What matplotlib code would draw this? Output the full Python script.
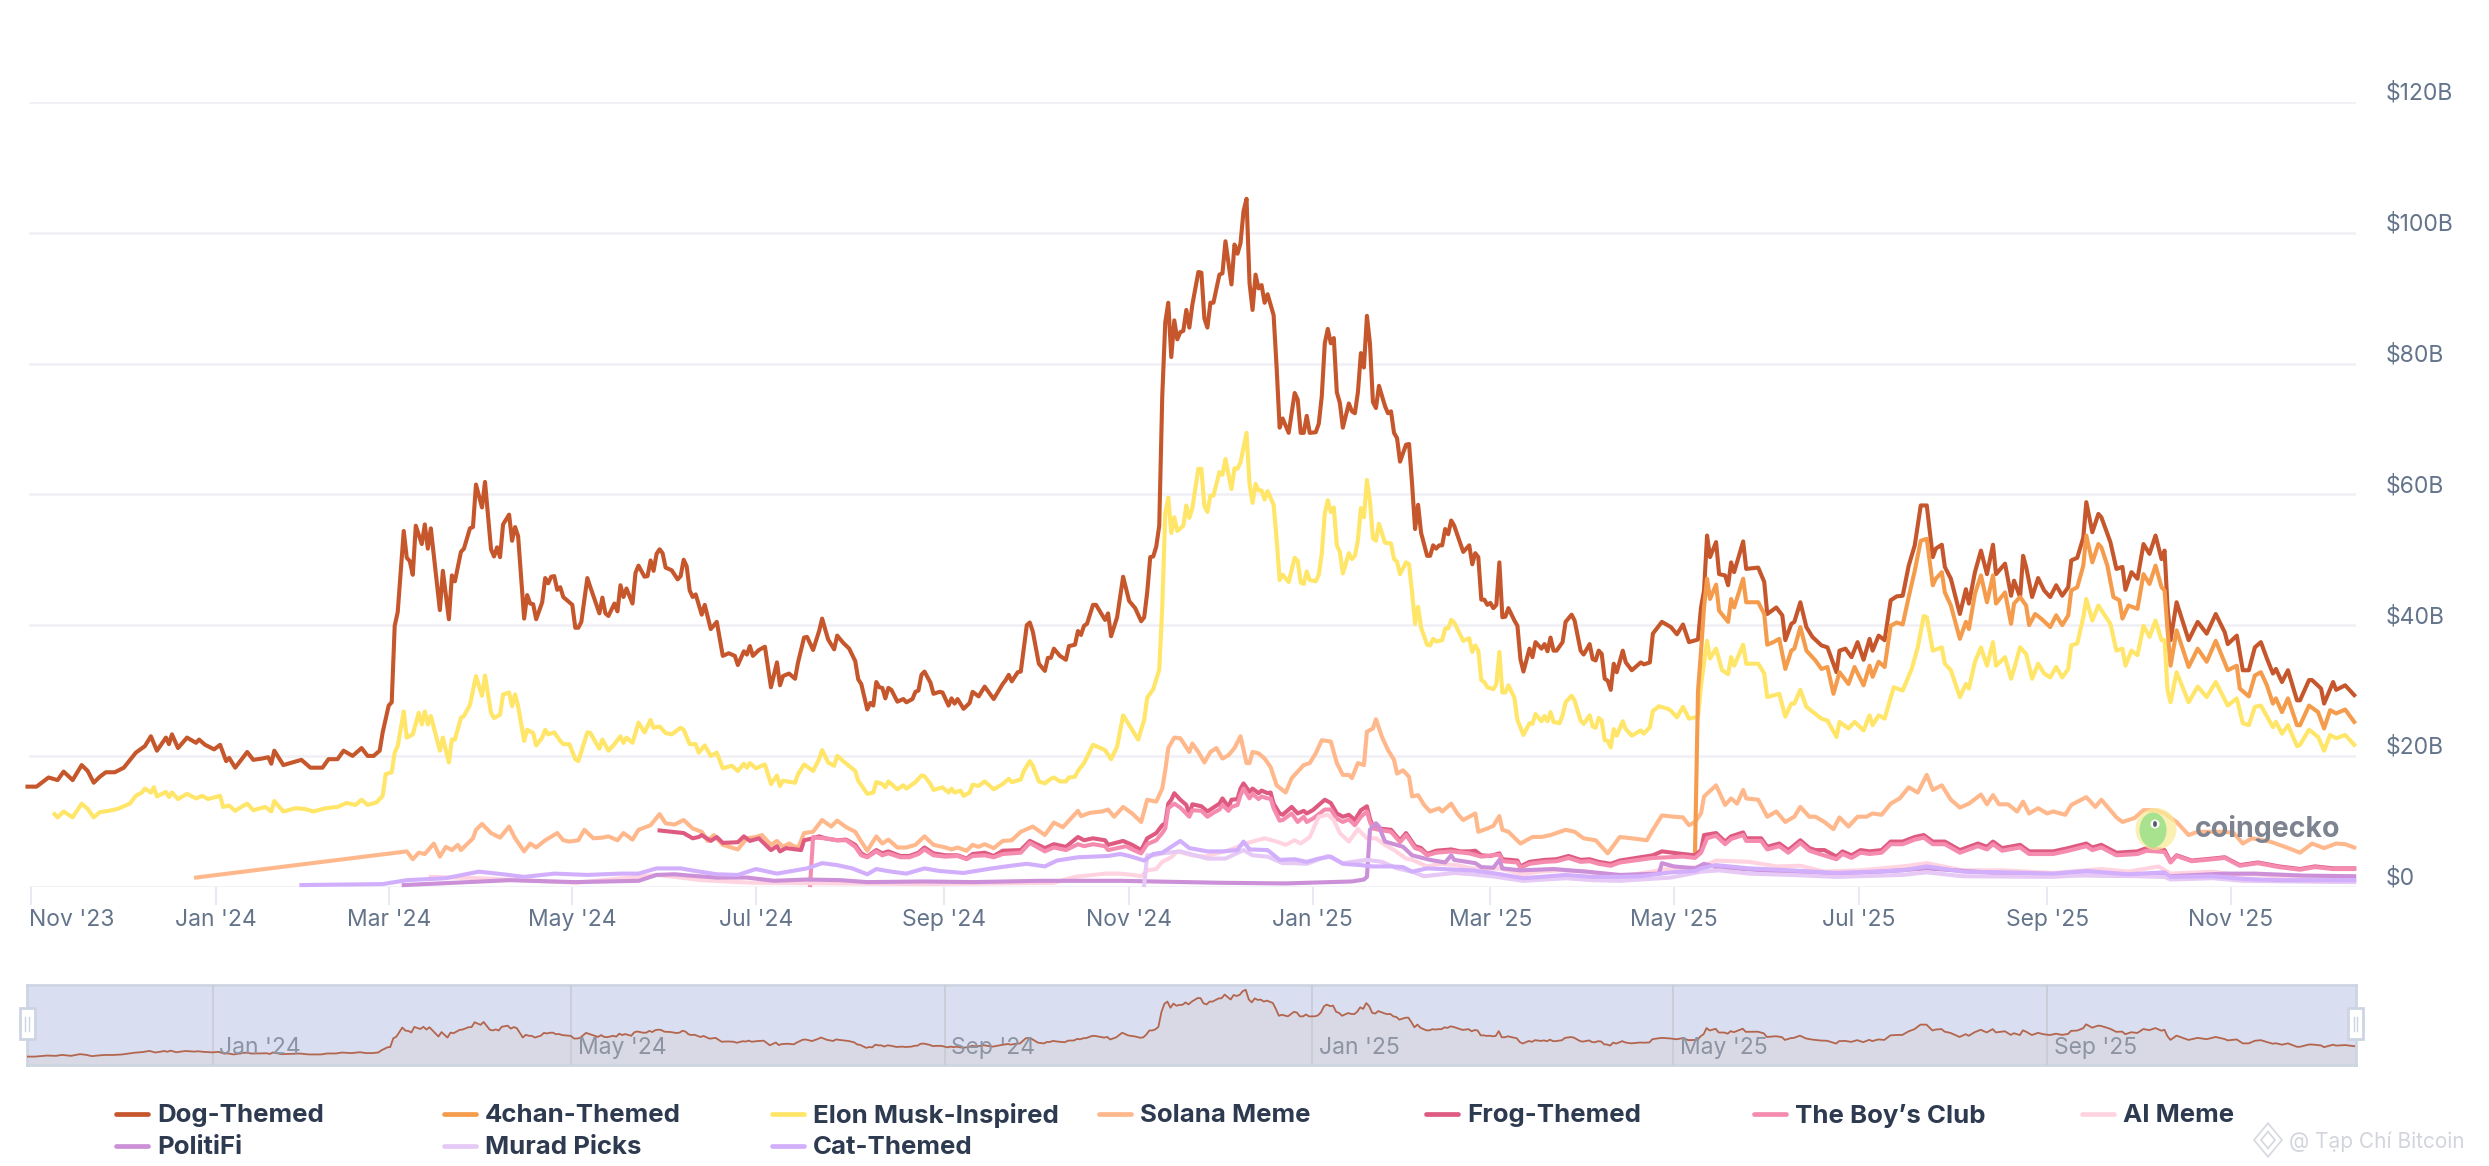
import pandas as pd
import matplotlib
matplotlib.use('Agg')
import matplotlib.pyplot as plt
from matplotlib.lines import Line2D
from matplotlib.patches import Ellipse, Rectangle, Polygon
from matplotlib.transforms import ScaledTranslation

plt.rcParams['font.family'] = ['Inter', 'DejaVu Sans']

# every series: (days since 2023-11-01, market cap in $B)
dog_themed = [(-1,15.3),(2,15.3),(6,16.7),(9,16.3),(11,17.6),(14,16.3),(17,18.6),(19,17.7),(21,15.9),(23,16.8),(25,17.5),(28,17.5),(31,18.2),(35,20.5),(38,21.5),(40,23.0),(42,20.8),(45,22.8),(46,21.8),(47,23.3),(49,21.2),(52,22.8),(55,22),(56,22.5),(58,21.7),(61,21),(63,21.7),(65,19.2),(66,19.7),(68,18.2),(70,19.4),(72,20.6),(74,19.4),(77,19.6),(79,19.8),(80,18.8),(81,20.8),(84,18.6),(87,19),(90,19.4),(93,18.2),(97,18.2),(99,19.5),(102,19.5),(104,20.8),(107,20),(110,21.2),(112,20),(114,20),(116,20.8),(117,23.6),(119,27.7),(120,28.2),(121,39.9),(122,42),(124,54.4),(125,50.3),(126,49.8),(127,47.7),(128,55.2),(130,52.4),(131,55.4),(132,51.7),(133,54.8),(136,42.3),(137,48.3),(139,40.9),(140,47.6),(141,46.7),(143,51.2),(144,51.7),(146,54.8),(147,55),(148,61.5),(150,58),(151,61.9),(153,51.6),(154,50.5),(155,51.9),(156,50.4),(157,55.4),(159,56.9),(160,52.9),(161,55),(162,53.6),(164,41),(165,44.6),(166,43.3),(167,43.2),(168,40.9),(170,43.5),(171,47.2),(172,46.4),(173,47.4),(174,47.5),(175,45.4),(176,45.8),(177,44.3),(180,43.1),(181,39.6),(182,39.6),(183,40.5),(185,47.2),(186,45.8),(189,41.8),(190,44.2),(191,41.8),(192,41.4),(194,43.3),(195,42.1),(196,46.1),(197,44.3),(198,45.6),(200,43.3),(201,48),(202,49.1),(204,47.4),(205,47.5),(206,49.9),(207,48.3),(208,50.9),(209,51.6),(210,51),(211,48.8),(213,48.4),(215,47),(216,47.5),(217,50),(218,49),(219,45.3),(220,44.3),(221,44.7),(223,41.6),(224,43.1),(226,39.4),(228,40.5),(230,35.3),(232,35.7),(234,35.3),(235,33.9),(237,36),(238,35.5),(239,36.8),(240,35.3),(242,36.2),(244,36.7),(246,30.5),(248,34.3),(249,30.8),(250,32.2),(252,32.6),(254,31.8),(255,34.3),(257,38.1),(258,38.2),(260,36.2),(262,39.1),(263,41),(265,37.8),(267,36.3),(268,38.4),(270,37.3),(272,36.4),(274,34.5),(275,31.7),(276,31),(278,27.1),(279,28.1),(280,27.7),(281,31.3),(282,30.5),
    (283,30.4),(284,28.8),(285,30.4),(286,30.1),(288,28.3),(290,28.7),(291,28.2),(293,28.7),(294,29.8),(295,30),(296,32.4),(297,32.9),(299,31.2),(300,29.5),(302,29.8),(303,29.7),(305,27.7),(306,28.8),(307,28),(308,28.7),(310,27.2),(312,28.1),(313,29.8),(315,29.1),(317,30.6),(320,28.7),(323,31),(324,31.6),(325,32.4),(326,31.4),(328,32.8),(329,32.9),(331,40),(332,40.4),(333,39),(335,34.1),(337,33),(338,35),(339,35),(340,36.4),(342,35.3),(344,34.7),(345,36.8),(347,37),(348,39.1),(349,38.5),(350,39.9),(351,40.2),(353,43.1),(354,43.1),(357,40.8),(358,41.8),(359,38.3),(361,41.2),(363,47.4),(365,43.7),(367,42.6),(369,40.6),(370,41.2),(371,45),(372,50.4),(373,50.5),(374,52),(375,55.2),(376,75),(377,86.3),(378,89.3),(379,81),(380,86.6),(381,83.7),(382,84.8),(383,85),(384,88.2),(385,85.5),(386,89),(388,94),(389,93.9),(390,86.9),(391,85.5),(392,89.3),(393,89.3),(395,93.6),(396,93.8),(397,98.7),(399,92.1),(400,98.2),(401,96.8),(402,98.4),(403,103.3),(404,105.2),(405,92.3),(406,88.2),(407,93.6),(408,91.5),(409,92),(410,89.3),(411,90.6),(413,87.4),(414,79.4),(415,70.2),(416,71.6),(418,69.4),(420,75.5),(421,74.5),(422,69.4),(423,69.4),(424,72),(425,69.4),(427,69.5),(428,70.8),(429,75),(430,83.1),(431,85.3),(432,83.1),(433,83.9),(434,75.6),(435,74),(436,70.2),(438,73.9),(439,72.7),(440,72.4),(441,75.6),(442,81.6),(443,79.4),(444,87.3),(445,83.1),(446,74.1),(447,73.2),(448,76.6),(450,73.5),(451,72.4),(452,72.7),(453,69.4),(454,68.6),(455,65),(457,67.6),(458,67.7),(459,61.6),(460,54.7),(461,58.4),(462,54.1),(464,50.6),(465,50.6),(466,52.2),(467,51.7),(468,52.2),(469,52.2),(470,54.7),(471,53.9),(472,56),(473,55.2),(476,51.2),(478,52.2),(479,49.3),(480,51),(481,50.4),(482,43.9),(483,43.9),(484,43.1),(485,43.4),(486,42.6),(487,43.1),(488,49.6),(489,41.2),(490,41.3),(491,42.6),(493,40.7),(494,39.9),(495,34.8),(496,32.9),(498,36.4),
    (499,35.1),(500,37.4),(502,36.4),(503,37.1),(504,36),(505,38.1),(506,36.1),(507,36.1),(509,37.4),(510,40.5),(512,41.6),(513,40.7),(515,36.1),(516,35.5),(518,37.1),(519,34.8),(520,34.6),(521,36.1),(522,35.6),(523,31.8),(524,31.5),(525,30.1),(526,34.1),(527,32.8),(529,36.1),(530,34.3),(532,33.1),(535,34.3),(536,34),(538,34.3),(539,38.7),(542,40.5),(545,39.7),(547,38.6),(549,40.1),(551,37.4),(554,37.8),(555,42.7),(556,45.3),(557,53.7),(558,50.4),(560,52.7),(561,47.8),(563,47.6),(564,46.1),(565,49.6),(566,48.1),(569,52.8),(570,48.6),(574,48.8),(576,46.6),(577,41.7),(580,42.7),(582,41.5),(583,37.7),(585,40.2),(586,40.5),(588,43.5),(590,39.7),(592,38.2),(595,36.9),(597,36.6),(600,32.8),(601,36.1),(603,36.4),(605,35.1),(607,37.4),(609,34.7),(611,37.9),(612,36.1),(614,38.4),(616,37.7),(618,43.8),(620,44.4),(622,44.5),(624,49.1),(626,52.2),(628,58.3),(630,58.3),(632,50.4),(633,51.7),(635,52.3),(636,48.9),(638,47.1),(641,41.7),(643,45.5),(644,43.3),(646,48.1),(648,51.4),(650,47.8),(652,52.3),(653,47.8),(656,49.4),(658,44.5),(659,46.8),(661,44.3),(662,50.6),(663,48.9),(665,44.3),(667,47.2),(669,45.3),(671,44.3),(673,46.1),(675,44.5),(677,45.8),(678,49.9),(680,50.3),(682,53.4),(683,58.8),(685,54.2),(687,57),(688,56.5),(691,52.7),(693,48.6),(695,48.9),(696,45.4),(698,48.1),(700,47.1),(702,52.4),(704,50.9),(706,53.7),(708,50.1),(709,51.4),(710,42.7),(711,37.7),(713,43.5),(717,37.7),(720,40.5),(723,38.7),(726,41.7),(729,38.9),(730,37.1),(733,38.4),(735,33.1),(737,33.1),(739,36.6),(741,37.4),(743,34.9),(745,32.6),(746,33.3),(748,31.3),(750,33.1),(753,28.5),(754,28.5),(757,31.6),(758,31.6),(761,30.3),(762,28),(765,31.3),(766,30.1),(769,30.8),(772,29.3)]

fourchan_themed = [(553,5.2),(554,30),(555,36),(556,42.7),(557,47.1),(558,44),(560,46.2),(561,42.2),(564,40.5),(565,44),(566,42.7),(569,47.1),(570,43.5),(574,43.5),(576,41.7),(577,37),(579,37.4),(581,37.9),(583,33.3),(585,36.1),(586,36.4),(588,39.7),(590,36.1),(593,34.6),(595,33.3),(597,33.6),(599,29.5),(601,32.8),(604,31),(606,33.6),(609,30.8),(611,33.8),(612,32.1),(614,34.4),(616,33.6),(618,39.9),(620,40.4),(622,40.1),(624,44.3),(626,48.3),(628,52.9),(630,53.2),(632,46.1),(633,47.1),(635,48.1),(636,45),(638,43),(641,37.9),(643,40.5),(644,39.4),(646,44.8),(648,47.6),(650,43.5),(652,47.6),(653,43.3),(656,45),(658,40.2),(659,43.3),(661,44.3),(663,43),(664,40),(666,41.7),(668,41),(671,39.7),(673,41.5),(675,40),(677,41.5),(678,45.3),(680,45.8),(682,49.1),(683,53.7),(685,49.6),(687,52.4),(688,51.9),(690,49.1),(692,44.3),(694,43.8),(695,41),(697,43),(700,42.5),(702,47.8),(704,46.3),(706,49.1),(708,45.8),(709,45.3),(710,39.2),(711,33.8),(713,39.2),(717,33.6),(720,36.4),(723,34.4),(726,37.6),(730,33.1),(733,33.8),(734,30.3),(737,29.1),(739,32.3),(741,32.8),(743,30.8),(745,28),(746,28.8),(748,26.7),(750,28.8),(753,24.7),(754,24.7),(757,27.7),(760,26.7),(762,24.2),(764,27),(766,26.5),(769,27.1),(772,25.2)]

elon_inspired = [(8,11.1),(9,10.6),(11,11.5),(14,10.6),(17,12.7),(19,11.9),(21,10.6),(23,11.4),(26,11.6),(29,11.9),(33,12.7),(35,13.9),(37,14.4),(38,15),(40,14.4),(41,15.2),(42,13.8),(45,14.5),(46,13.7),(47,14.4),(49,13.4),(52,14.2),(55,13.5),(57,13.9),(59,13.4),(63,13.9),(64,12.2),(66,12.4),(68,11.6),(70,12.2),(72,12.7),(74,11.7),(78,12.2),(80,11.5),(81,13.1),(84,11.5),(88,12),(91,11.9),(94,11.5),(98,12),(102,12.2),(105,12.8),(108,12.5),(110,13.3),(112,12.5),(115,12.9),(117,13.9),(118,17.2),(120,17.5),(121,20.5),(122,21.5),(124,26.8),(125,22.8),(127,23.3),(129,26.6),(130,24.8),(131,26.8),(132,24.8),(133,26.1),(136,20.8),(137,22.8),(139,19),(140,22.5),(141,22.5),(143,25.8),(144,26.1),(146,27.8),(148,32.2),(150,29.2),(151,32.3),(153,26.6),(154,25.8),(156,26.3),(157,29.4),(159,29.7),(160,27.6),(161,29.4),(162,27.6),(164,22.3),(165,24),(167,23.5),(168,21.6),(170,22.8),(171,24),(172,23.3),(174,23.6),(176,22.3),(177,21.8),(179,21.8),(181,19.5),(182,19.2),(185,23.6),(186,23.5),(189,21.1),(190,22.5),(192,20.8),(194,21.8),(196,23),(197,22),(198,22.8),(200,22),(202,25.1),(204,23.6),(206,25.5),(207,24.3),(209,24.5),(211,23.5),(213,23.3),(216,24.3),(217,24),(219,21.8),(221,21.8),(222,20.5),(224,21.6),(226,20),(228,20.5),(230,18.1),(233,18.5),(235,17.7),(237,18.8),(238,18.2),(239,18.9),(241,18.1),(244,18.7),(246,15.7),(248,17),(249,15.4),(250,16.2),(254,15.9),(255,17.2),(257,18.7),(260,17.7),(262,19.5),(263,20.9),(265,19),(267,18.5),(268,20),(270,19.2),(274,17.7),(275,16.2),(278,14.2),(280,14.4),(281,16),
    (283,15.7),(284,15.2),(285,16.1),(286,15.7),(288,14.9),(290,15.5),(291,15),(294,16),(296,17),(297,16.9),(299,15.7),(300,14.8),(303,15.2),(305,14.4),(306,15),(307,14.4),(309,14.7),(310,13.9),(312,14.4),(313,15.6),(315,15.4),(317,16.1),(320,14.9),(323,15.7),(325,16.5),(326,16),(329,16.4),(330,17.7),(332,19.2),(333,18.5),(335,16.1),(337,15.8),(339,16.5),(340,16.7),(342,16.1),(344,16.1),(345,16.7),(347,16.8),(348,17.7),(350,18.9),(353,21.7),(357,20.9),(359,19.5),(361,21.4),(363,26.2),(366,24),(368,22.5),(370,25.5),(371,28.9),(373,30.2),(375,33.2),(376,42.8),(377,57.1),(378,59.5),(379,54.1),(380,56.5),(381,54.4),(383,55.2),(384,58.3),(385,56.4),(386,57.9),(388,63.9),(389,63.9),(390,58.2),(391,57.3),(392,59.8),(393,59.8),(395,63.4),(396,63),(397,65.4),(399,60.8),(400,64),(401,63.9),(402,64.9),(404,69.4),(405,61.6),(406,58.7),(407,61.6),(408,60.6),(409,60.6),(410,59.2),(411,60.5),(413,58.4),(414,53.1),(415,46.9),(416,47.7),(418,46.6),(420,50.3),(421,49.8),(422,46.5),(423,46.3),(424,48.2),(425,46.9),(427,46.7),(428,47.7),(429,50.9),(430,57.1),(431,59.1),(432,57.3),(433,58),(434,52.2),(435,51.2),(436,47.9),(438,51),(439,50.1),(440,50.6),(441,53),(442,57.9),(443,56.5),(444,62.2),(445,59),(446,53.3),(447,52.9),(448,55.5),(450,52.6),(452,52.5),(453,50.1),(454,49.7),(455,47.8),(457,49.6),(458,49.3),(459,45),(460,40.2),(461,42.8),(462,39.6),(464,37),(465,36.9),(466,37.9),(467,37.5),(469,37.7),(470,39.5),(471,39.5),(472,40.8),(473,40.4),(476,37.6),(478,38),(479,35.9),(480,36.9),(481,36.1),(482,31.6),(483,31.3),(484,30.5),(486,30.2),(487,31),(488,35.9),(489,29.7),(490,29.7),(491,30.8),(493,28.9),(494,25.5),(496,23.2),(498,25),
    (499,24.9),(500,26.4),(502,25.3),(503,26.1),(504,25.3),(505,26.7),(506,25.2),(508,25),(509,26.2),(510,28.2),(512,29.2),(513,28.5),(515,25.4),(516,24.9),(518,26.2),(519,24.5),(520,24.3),(521,25.8),(522,25.4),(523,22.4),(524,22.3),(525,21.3),(526,24.1),(527,23.1),(529,25.3),(530,24.1),(532,23.1),(535,23.9),(536,23.4),(538,24.4),(539,26.9),(540,27.2),(541,27.6),(544,27.2),(545,26.9),(547,25.9),(549,27.5),(551,25.7),(554,26),(555,30.8),(557,37.6),(558,34.9),(560,36.4),(562,33.1),(564,32.5),(565,35.1),(566,33.8),(569,37),(570,34.1),(574,34.1),(576,32.6),(577,29),(581,29.5),(583,26),(585,28),(586,28),(588,30.1),(590,27.5),(595,25.7),(597,25.4),(600,22.9),(601,25.2),(604,24.2),(606,25.2),(609,23.9),(611,26.2),(612,24.7),(614,26.2),(616,25.7),(619,30.5),(622,30),(625,33.3),(627,36.6),(629,41.4),(630,41.2),(632,36.1),(635,36.6),(636,34.1),(638,33.1),(641,29),(643,31),(644,30.3),(646,34.4),(648,36.6),(650,33.8),(652,37.4),(653,33.8),(656,35.1),(658,31.8),(659,33.3),(661,36.6),(663,35.6),(665,31.8),(667,34.1),(669,32.6),(671,32),(673,33.6),(675,32),(677,33.3),(678,36.9),(680,37.2),(682,41.2),(683,44),(685,40.7),(687,43),(691,40.2),(693,36.1),(695,36.4),(696,33.8),(698,36.1),(700,35.4),(702,39.9),(704,38.2),(706,40.7),(708,37.7),(709,37.7),(710,30),(711,28.2),(713,32.8),(717,28.2),(720,30.6),(723,29),(726,31.3),(730,27.7),(733,28.8),(735,25),(737,24.7),(739,27.5),(741,27.7),(745,24.4),(746,25.2),(748,23.4),(750,24.7),(753,21.5),(754,21.7),(757,24),(760,22.9),(762,20.8),(764,23.2),(766,22.7),(769,23.2),(772,21.7)]

solana_meme = [(55,1.4),(125,5.4),(127,4.2),(129,5.2),(131,5),(134,6.6),(136,4.6),(138,6.1),(140,5.6),(142,6.4),(143,5.6),(147,7.4),(148,8.7),(150,9.6),(153,8.2),(156,7.5),(159,9.2),(161,7.4),(164,5.4),(166,6.6),(168,6),(171,7.1),(175,8.2),(177,7.1),(179,6.9),(182,7.1),(184,8.7),(187,7.4),(190,7.5),(192,7.7),(195,7.1),(197,8.2),(200,7.2),(202,8.7),(206,9.4),(209,11.1),(211,9.7),(214,9.5),(217,10.2),(220,8.9),(223,8.4),(225,7),(227,7.9),(230,6.4),(235,5.7),(238,7.4),(241,7.6),(243,7.9),(246,6.4),(248,7),(250,6.1),(252,6.6),(255,5.9),(257,8.2),(260,8.4),(263,10.2),(266,9.2),(268,10.1),(271,9.1),(274,8.4),(276,6.9),(278,5.5),(281,7.7),(283,6.6),(285,7.2),(288,6),(291,6),(294,6.4),(297,7.7),(300,6.4),(304,6),(306,5.7),(308,6),(311,5.5),(313,6.4),(315,6.1),(317,6.5),(320,5.9),(323,7),(326,7.1),(329,8.4),(333,9.2),(337,7.9),(340,9.8),(343,9.1),(346,10.6),(348,11.6),(349,10.8),(352,11.3),(356,11.5),(358,11.8),(360,10.7),(363,12.2),(366,11.2),(369,9.9),(371,13.3),(374,13),(376,15),(377,17.8),(378,21.2),(380,22.8),(382,22.7),(385,20.6),(386,21.9),(388,20.6),(390,19),(392,20.6),(394,21.2),(396,19.6),(398,20.1),(400,21.2),(402,23),(404,18.9),(405,18.9),(406,20.6),(408,20.4),(410,19.6),(412,18.3),(414,15.5),(417,14.4),(419,16.6),(421,17.6),(423,18.6),(425,18.9),(427,20.4),(429,22.4),(432,22.2),(434,18.9),(436,17.1),(438,17.1),(439,16.6),(441,18.9),(443,18.6),(444,23.7),(446,24.2),(447,25.6),(449,22.9),(451,20.9),(453,19.4),(454,17.3),(456,17.8),(458,16.8),(459,13.8),(461,14),(463,12.5),(465,11.5),(468,12),(469,11.5),(472,12.7),(474,11.2),(476,10.2),(480,11.2),(481,8.4),(484,8.9),(486,9.3),(488,10.8),(489,8.7),(491,8.4),(495,6.6),(499,7.6),(502,7.6),(505,7.9),(510,8.7),(513,8.4),(516,7.4),(520,7.1),(524,5.1),(528,7.6),(532,7.4),(537,7.1),(539,8.7),(542,10.9),(546,10.7),(549,10.6),(551,9.4),(553,9.9),(555,11.2),(556,13.8),(560,15.5),(563,12.5),(565,13.5),(567,12.7),(569,14.8),(570,13.5),(574,13.3),(577,10.7),(580,11.5),(583,9.9),(586,10.7),(588,12.2),(591,10.7),(593,10.7),(596,9.9),(599,8.8),(601,10.6),(604,9.2),(607,10.7),(610,10.7),(612,11.2),(615,11),(618,12.7),(621,13.5),(624,15.2),(627,14.4),(630,17.1),(632,14.8),(635,15.5),(638,13.3),(641,12.1),(644,12.7),(648,14.1),(650,12.6),(652,14),(654,12.6),(657,12.6),(660,11.5),(662,13),(664,11.2),(667,12),(670,11.2),(672,11.5),(676,11),(678,12.5),(683,13.7),(686,12.2),(688,13.3),(693,10.6),(695,9.9),(699,10.5),(702,11.7),(706,11.7),(709,11.2),(713,9.9),(717,7.9),(720,8.4),(725,8.4),(729,8.4),(732,8.2),(735,6.6),(738,7.4),(744,6.9),(749,6.1),(754,5.2),(758,6.6),(762,5.9),(766,6.6),(769,6.5),(772,6)]

frog_themed = [(209,8.6),(217,8.2),(220,7.4),(222,7.6),(223,7.9),(226,7),(228,7.6),(230,6.7),(235,6.8),(237,7.7),(239,7),(242,7.4),(246,5.6),(248,6.2),(249,5.4),(251,5.9),(256,5.6),(257,7.1),(260,7.4),(262,7.7),(264,7.4),(268,7.1),(271,7.2),(274,6.4),(276,5.1),(278,4.6),(281,5.6),(283,5.1),(285,5.4),(289,4.7),(292,4.7),(295,5.2),(297,6),(300,5.1),(304,4.8),(308,4.8),(311,4.3),(313,5),(317,5.2),(320,4.7),(323,5.5),(329,5.6),(332,7),(337,5.9),(340,6.5),(344,6.1),(348,7.6),(350,7.1),(353,7.4),(357,7.1),(358,6.4),(363,7),(366,6.4),(369,5.6),(371,7.4),(374,8.2),(376,9.4),(377,9.7),(378,12.7),(379,13.3),(380,14.3),(382,13.3),(384,12.5),(385,11),(386,12.6),(389,12.3),(391,11.5),(393,12.1),(395,12.7),(396,13.5),(398,12.2),(399,13.3),(401,13.4),(402,15),(403,15.8),(405,14.5),(406,15),(408,14.3),(409,14.7),(411,14.3),(412,14.4),(413,12.7),(415,11.2),(416,11),(419,12.2),(421,11.2),(423,11.6),(424,11.2),(426,11.7),(430,13.3),(432,12.8),(434,11.2),(436,10.7),(438,11),(440,10.2),(442,11.7),(444,12.3),(445,10.4),(446,9.2),(448,8.9),(452,8.7),(455,7.1),(457,8.2),(460,6.2),(462,5.9),(464,5),(467,5.5),(472,5.7),(475,5.4),(478,5.4),(480,5.5),(482,4.8),(485,4.7),(488,5.1),(489,4.2),(494,4),(495,3.1),(498,3.8),(503,4.1),(507,4.2),(511,4.7),(515,4.1),(518,4.2),(521,3.8),(525,3.5),(528,4),(539,4.8),(542,5.4),(549,5),(553,4.8),(555,5.6),(556,7.9),(560,8.2),(563,6.9),(565,7.7),(569,8.3),(570,7.4),(575,7.4),(577,6.1),(581,6.6),(584,5.6),(588,7.1),(591,5.9),(593,5.6),(596,5.6),(600,4.6),(602,5.4),(605,4.8),(608,5.6),(611,5.4),(615,5.6),(618,6.9),(622,6.9),(626,7.6),(629,7.9),(632,6.9),(636,6.9),(641,5.6),(647,6.6),(650,6.1),(652,6.9),(655,5.9),(661,6.4),(664,5.4),(672,5.4),(677,5.9),(683,6.6),(685,6),(688,6.4),(693,5.2),(700,5.4),(703,5.9),(709,5.6),(711,3.8),(713,4.8),(718,4),(725,4.3),(729,4.5),(734,3.3),(740,3.7),(747,3.1),(754,2.7),(759,3.1),(765,2.8),(772,2.8)]

boys_club = [(259,0.25),(260,7.6),(261,7.5),(264,7.4),(268,7.1),(271,7.1),(274,6.1),(276,4.8),(278,4.5),(281,5.4),(283,4.8),(285,5.1),(289,4.5),(292,4.5),(295,5),(297,5.7),(300,4.8),(304,4.6),(308,4.7),(311,4.2),(313,4.7),(317,4.8),(320,4.5),(323,5),(329,5.2),(332,6.7),(337,5.4),(340,6),(344,5.6),(348,6.5),(350,6.2),(353,6.5),(357,6.2),(358,5.6),(362,6),(364,6.2),(366,5.7),(369,5.1),(371,6.5),(374,7.1),(376,8.2),(377,8.9),(378,12),(380,12.7),(382,12.1),(385,10.7),(386,11.7),(389,11.6),(391,10.7),(393,11.3),(395,11.8),(396,12.5),(398,11.6),(399,12.2),(401,12.5),(402,14),(403,15),(405,13.5),(406,14.2),(408,13.4),(409,13.8),(411,13.5),(412,13.5),(413,12),(415,10.1),(416,10.2),(419,11.2),(421,9.9),(423,10.7),(424,9.9),(426,10.4),(430,11.8),(432,11.8),(434,10.4),(436,9.9),(438,10.3),(440,9.4),(442,10.7),(444,11.5),(445,9.9),(446,8.9),(448,8.7),(452,8.4),(455,6.8),(457,7.9),(460,5.9),(462,5.6),(464,4.8),(467,5.2),(472,5.4),(478,5.1),(482,4.6),(488,4.9),(489,3.9),(494,3.7),(495,2.9),(498,3.5),(503,3.8),(507,3.9),(511,4.4),(515,3.8),(518,3.9),(521,3.5),(525,3.2),(528,3.7),(539,4.4),(549,4.6),(553,4.4),(555,5.2),(557,7.4),(560,7.8),(563,6.5),(565,7.3),(569,7.9),(570,7),(575,7),(577,5.7),(581,6.2),(584,5.2),(588,6.7),(591,5.5),(593,5.2),(600,4.2),(602,5),(605,4.4),(608,5.2),(611,5),(615,5.2),(618,6.5),(622,6.5),(626,7.2),(629,7.5),(632,6.5),(636,6.5),(641,5.2),(647,6.2),(650,5.7),(652,6.5),(655,5.5),(661,6),(664,5),(672,5),(677,5.5),(683,6.2),(685,5.6),(688,6),(693,4.8),(700,5),(703,5.5),(709,5.3),(711,3.7),(713,4.7),(718,3.9),(725,4.2),(729,4.4),(734,3.2),(740,3.6),(747,3),(754,2.6),(759,3),(765,2.7),(772,2.7)]

ai_meme = [(133,1.5),(149,1.3),(181,0.6),(208,1.8),(214,1.5),(223,1),(240,0.6),(297,0.4),(340,0.6),(347,1.5),(357,2),(362,2),(366,1.8),(369,1.6),(371,2.5),(374,2.7),(376,3.8),(379,4.5),(381,5.4),(386,4.8),(390,4.6),(394,5.1),(397,5.4),(400,5.9),(403,6.5),(406,6.9),(410,7.4),(414,6.9),(417,6.4),(420,7.1),(422,6.6),(425,7.6),(428,10.7),(431,11),(433,10.2),(435,8.2),(438,6.9),(441,8.8),(444,7.4),(447,7.4),(450,6.4),(453,5.6),(457,4.3),(459,4.1),(464,3.1),(468,3.5),(474,3.3),(479,2.8),(483,2.7),(488,2.8),(496,1.9),(501,2.3),(508,2.5),(517,2.3),(528,1.5),(545,2.8),(555,3),(560,4),(571,3.8),(580,3.1),(588,3.2),(596,2.3),(608,2.5),(622,3.1),(630,3.6),(642,2.5),(655,2.5),(672,2.1),(688,2.7),(697,2.3),(707,3.1),(711,2),(725,2.3),(732,1.8),(739,1.9),(755,1.2),(772,1.2)]

politifi = [(124,0.25),(150,0.8),(159,1),(181,0.7),(202,0.9),(208,1.8),(214,1.9),(219,1.7),(228,1.4),(238,1.4),(247,0.9),(258,1.1),(269,1),(278,0.7),(297,0.8),(313,0.7),(335,0.9),(362,0.9),(395,0.6),(417,0.5),(439,0.8),(443,1.1),(444,1.5),(445,8.7),(447,9.7),(448,9.2),(450,6.9),(456,6.1),(459,4.8),(465,4.1),(470,3.7),(472,4.8),(473,4.1),(480,3.6),(482,3),(486,2.9),(488,4.1),(489,2.8),(495,2.5),(506,2.7),(517,2.3),(528,1.8),(541,2),(542,3.6),(546,3.1),(553,2.8),(556,3.5),(560,3),(585,2.2),(600,1.8),(630,2.8),(655,2),(672,1.8),(697,1.7),(711,1.6),(729,2),(739,2),(755,1.7),(772,1.6)]

murad_picks = [(370,0.25),(371,4.8),(373,4.8),(376,5.1),(382,5.4),(387,4.8),(391,4.3),(397,4.3),(403,5.6),(406,4.8),(411,4.6),(416,3.6),(420,3.6),(424,3.5),(431,4.7),(436,3.6),(444,4.1),(449,3.8),(454,2.8),(459,2.3),(463,1.6),(473,2.1),(479,1.9),(487,1.5),(496,0.9),(510,1.3),(519,1),(528,0.9),(545,1.4),(555,2.3),(561,2.5),(571,2),(585,1.8),(600,1.5),(622,1.8),(630,2.2),(642,1.6),(672,1.5),(683,1.8),(709,1.5),(711,1.1),(725,1.3),(735,0.9),(772,0.7)]

cat_themed = [(90,0.25),(117,0.4),(125,1),(138,1.3),(149,2.3),(157,1.9),(164,1.5),(174,2),(185,1.8),(196,2),(202,2),(208,2.8),(216,2.8),(221,2.4),(228,1.9),(235,1.8),(241,2.7),(248,2),(258,2.8),(263,3.6),(268,3.3),(273,2.8),(278,1.9),(281,2.7),(286,2.3),(291,2),(297,2.8),(302,2.4),(310,2.1),(318,2.7),(324,3.1),(331,3.5),(337,3.1),(341,4),(348,4.5),(358,4.7),(362,5),(365,4.7),(370,4),(373,5),(376,5.2),(380,6.4),(382,7),(385,5.9),(391,5.4),(396,5.4),(401,5.6),(403,6.9),(405,5.7),(411,5.6),(415,4.1),(420,4.2),(424,3.8),(428,4.3),(432,4.6),(436,3.5),(442,3.3),(446,3.1),(452,3.1),(456,3),(459,2.3),(464,2.8),(479,2.5),(487,2),(496,1.3),(510,1.8),(519,1.5),(528,1.5),(535,1.6),(545,2.2),(553,2.4),(555,2.8),(560,3.3),(571,2.8),(585,2.5),(600,2.1),(612,2.3),(622,2.5),(630,3.1),(642,2.3),(655,2.2),(672,2),(683,2.4),(697,1.9),(709,2.2),(711,1.5),(725,1.6),(735,1.2),(747,1),(759,1),(772,1)]

series_names = ['Dog-Themed', '4chan-Themed', 'Elon Musk-Inspired', 'Solana Meme', 'Frog-Themed',
                "The Boy\u2019s Club", 'AI Meme', 'PolitiFi', 'Murad Picks', 'Cat-Themed']
series_data = [dog_themed, fourchan_themed, elon_inspired, solana_meme, frog_themed,
               boys_club, ai_meme, politifi, murad_picks, cat_themed]
series_colors = ['#c6572c', '#f59c4c', '#ffe568', '#ffb88c', '#df5a80',
                 '#f58cb0', '#ffd3e0', '#cc90d8', '#e6c9f5', '#d2affc']

y_ticks = [0, 20, 40, 60, 80, 100, 120]
y_labels = ['$0', '$20B', '$40B', '$60B', '$80B', '$100B', '$120B']
# tick positions in days, as the reference places them (not exactly on the 1st)
x_tick_days = [0, 61.5, 119, 180, 241, 303.5, 365, 426, 485, 546, 607.5, 670, 731]
x_tick_labels = ["Nov '23", "Jan '24", "Mar '24", "May '24", "Jul '24", "Sep '24",
                 "Nov '24", "Jan '25", "Mar '25", "May '25", "Jul '25", "Sep '25", "Nov '25"]
nav_tick_days = [61, 180, 304, 426, 546, 670]
nav_tick_labels = ["Jan '24", "May '24", "Sep '24", "Jan '25", "May '25", "Sep '25"]

W, H = 2489, 1166
START = pd.Timestamp('2023-11-01')
GREY_LABEL = '#64748b'


def to_dates(days):
    return START + pd.to_timedelta(list(days), unit='D')


def px_box(left, top, right, bottom):
    return [left / W, 1 - bottom / H, (right - left) / W, (bottom - top) / H]


def shift_label(label, dx, dy):
    # move a tick label by some pixels, dy positive is downwards
    label.set_transform(label.get_transform() + ScaledTranslation(dx / 100, -dy / 100, fig.dpi_scale_trans))


x_range = (START + pd.Timedelta(days=-0.6), START + pd.Timedelta(days=772.6))

fig = plt.figure(figsize=(W / 100, H / 100), dpi=100, facecolor='white')

# main chart
ax = fig.add_axes(px_box(28.7, 102, 2356, 886.7))
for i, (data, color) in enumerate(zip(series_data, series_colors)):
    days, vals = zip(*data)
    z = 3.35 if i == 1 else 3 + i * 0.1
    ax.plot(to_dates(days), vals, color=color, lw=2.95, solid_joinstyle='round', zorder=z, clip_on=False)

ax.set_xlim(x_range)
ax.set_ylim(0, 120)
for s in ax.spines.values():
    s.set_visible(False)
ax.grid(axis='y', color='#f0f0f6', lw=1.9, zorder=0)
ax.set_axisbelow(True)
ax.yaxis.tick_right()
ax.set_yticks(y_ticks)
ax.set_yticklabels(y_labels, fontsize=16.5, color=GREY_LABEL, va='bottom')
ax.tick_params(axis='y', length=0, pad=22)
for lab in ax.get_yticklabels():
    shift_label(lab, -1, 3)
ax.set_xticks(to_dates(x_tick_days))
ax.set_xticklabels(x_tick_labels, fontsize=16.5, color=GREY_LABEL)
ax.tick_params(axis='x', length=13, width=1.5, color='#e8eaf1', pad=3)
ax.get_xticklabels()[0].set_ha('left')
shift_label(ax.get_xticklabels()[0], -2, 0)

# navigator strip
nav = fig.add_axes(px_box(27, 985, 2356, 1065))
nav.set_facecolor('#d9dff0')
dog_days, dog_vals = zip(*dog_themed)
nav.fill_between(to_dates(dog_days), dog_vals, 0, color='#d8d9e4', zorder=2)
nav.plot(to_dates(dog_days), dog_vals, color='#b4654e', lw=1.3, zorder=3)
nav.set_xlim(x_range)
nav.set_ylim(4, 111.6)
nav.set_yticks([])
nav.set_xticks(to_dates(nav_tick_days))
nav.set_xticklabels([])
nav.tick_params(axis='x', length=0)
nav.grid(axis='x', color='#c8cad2', lw=1.1, zorder=4)
nav.set_axisbelow(False)
for s in nav.spines.values():
    s.set_color('#cdd5e3')
    s.set_linewidth(2)
for d, lab in zip(to_dates(nav_tick_days), nav_tick_labels):
    nav.annotate(lab, (d, 0), xycoords=('data', 'axes fraction'), xytext=(5, 12),
                 textcoords='offset points', fontsize=16.5, color='#8c93a2', va='center', zorder=5)

# navigator handles
for left in (20, 2348):
    fig.add_artist(Rectangle((left / W, 1 - 1039 / H), 15 / W, 31 / H, transform=fig.transFigure,
                             facecolor='white', edgecolor='#cdd5e3', lw=2))
    for off in (5.5, 9):
        fig.add_artist(Line2D([(left + off) / W] * 2, [1 - 1017 / H, 1 - 1031 / H], color='#cdd5e3', lw=1))

# legend, filled row by row
col_x = [114, 442, 770, 1097, 1424, 1752, 2080]
row_y = [1114, 1146]
for i, (name, color) in enumerate(zip(series_names, series_colors)):
    x0, y0 = col_x[i % 7], row_y[i // 7]
    fig.add_artist(Line2D([(x0 + 2) / W, (x0 + 34) / W], [1 - y0 / H] * 2, color=color, lw=3.4, solid_capstyle='round'))
    fig.text((x0 + 43) / W, 1 - (y0 + 1.5) / H, name, fontsize=18.6, fontweight='bold', color='#2d3a50', va='center')

# coingecko watermark
fig.add_artist(Ellipse((2156 / W, 1 - 829 / H), 41 / W, 42 / H, transform=fig.transFigure, facecolor='#f9eb9a', alpha=0.75, lw=0))
fig.add_artist(Ellipse((2153 / W, 1 - 830 / H), 27 / W, 35 / H, transform=fig.transFigure, facecolor='#a9e28f', lw=0))
fig.add_artist(Ellipse((2155 / W, 1 - 824 / H), 9 / W, 9 / H, transform=fig.transFigure, facecolor='white', lw=0))
fig.add_artist(Ellipse((2155 / W, 1 - 824 / H), 4 / W, 6 / H, transform=fig.transFigure, facecolor='#59606c', lw=0))
fig.text(2195 / W, 1 - 829 / H, 'coingecko', fontsize=20.5, fontweight='bold', color='#7d838f', va='center', zorder=20)

# corner watermark
for size in (14, 7):
    fig.add_artist(Polygon([(2268 / W, 1 - (1140 - size * 1.2) / H), ((2268 + size) / W, 1 - 1140 / H),
                            (2268 / W, 1 - (1140 + size * 1.2) / H), ((2268 - size) / W, 1 - 1140 / H)],
                           closed=True, transform=fig.transFigure, fill=False, edgecolor='#d5d8de', lw=1.2))
fig.text(2289 / W, 1 - 1142 / H, '@ T\u1ea1p Ch\u00ed Bitcoin', fontsize=15, color='#d2d5dc', va='center')

fig.savefig('out.png', dpi=100)
